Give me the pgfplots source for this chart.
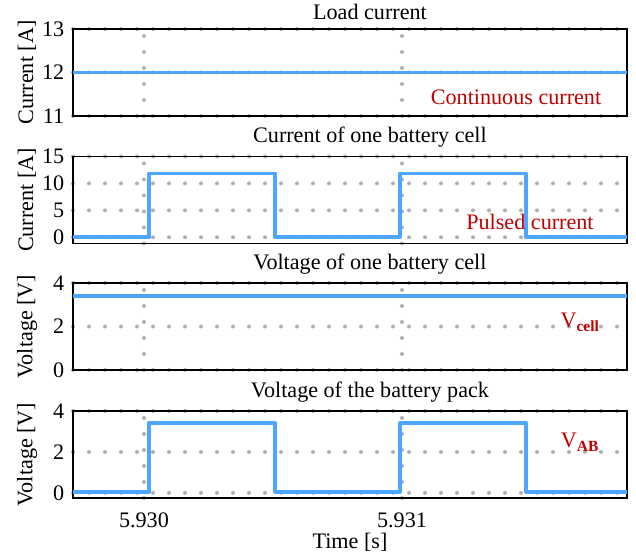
\documentclass[border=0pt]{standalone}
\usepackage{fontspec}
\setmainfont{Liberation Serif}
\usepackage{pgfplots}
\pgfplotsset{compat=1.18}

\definecolor{traceblue}{HTML}{4DA6FF}
\definecolor{notered}{HTML}{C00000}
\definecolor{gridgray}{HTML}{B0B0B0}

\newcommand\figfont{\fontsize{16.6}{19.5}\selectfont}

\tikzset{
  note/.style={notered, font=\figfont},
  trace/.style={traceblue, line width=2.8pt, line join=round, mark=none},
}

\pgfplotsset{
  panel/.style={
    scale only axis,
    width=415.5pt, height=65.25pt,
    anchor=north west,
    xmin=-0.275, xmax=1.872,
    xtick={0,1},
    xticklabels={},
    grid=major,
    grid style={gridgray, line width=3pt, line cap=round, dash pattern=on 0pt off 12pt},
    major grid style={gridgray, line width=3pt, line cap=round, dash pattern=on 0pt off 12pt},
    major tick length=0pt,
    axis line style={line width=1pt},
    tick label style={font=\figfont},
    yticklabel style={xshift=-3pt},
    /pgf/number format/assume math mode=true,
    ylabel style={at={(axis description cs:-0.083,0.5)}, anchor=center, font=\figfont},
    title style={at={(axis description cs:0.536,1)}, anchor=south, inner sep=0.5pt,
      font=\figfont},
  },
}

\begin{document}
\begin{tikzpicture}
\useasboundingbox (-54.75pt,-395.25pt) rectangle (422.25pt,21.75pt);

% load current
\begin{axis}[panel, at={(0pt,0pt)},
  ymin=11, ymax=13, ytick={11,12,13},
  title={Load current}, ylabel={Current [A]}]
  \addplot[trace] coordinates {(-0.275,12) (1.872,12)};
  \node[note] at (axis cs:1.442,11.44) {Continuous current};
\end{axis}

% current of one cell
\begin{axis}[panel, at={(0pt,-95.6pt)},
  ymin=-1.15, ymax=15, ytick={0,5,10,15},
  title={Current of one battery cell}, ylabel={Current [A]}]
  \addplot[trace] coordinates {(-0.275,0) (0.02,0) (0.02,11.85) (0.508,11.85) (0.508,0)
    (0.992,0) (0.992,11.85) (1.48,11.85) (1.48,0) (1.872,0)};
  \node[note] at (axis cs:1.496,2.76) {Pulsed current};
\end{axis}

% voltage of one cell
\begin{axis}[panel, at={(0pt,-190.5pt)},
  ymin=0, ymax=4, ytick={0,2,4},
  title={Voltage of one battery cell}, ylabel={Voltage [V]}]
  \addplot[trace] coordinates {(-0.275,3.4) (1.872,3.4)};
  \node[note] at (axis cs:1.69,2.2) {V\textsubscript{\textbf{cell}}};
\end{axis}

% voltage of the pack
\begin{axis}[panel, at={(0pt,-286.5pt)},
  ymin=-0.25, ymax=4, ytick={0,2,4},
  xticklabels={5.930,5.931},
  xticklabel style={anchor=center, yshift=-16.5pt},
  xlabel={Time [s]},
  xlabel style={at={(axis description cs:0.5,0)}, anchor=center, yshift=-33pt,
    font=\figfont},
  title={Voltage of the battery pack}, ylabel={Voltage [V]}]
  \addplot[trace] coordinates {(-0.275,0.06) (0.02,0.06) (0.02,3.42) (0.508,3.42) (0.508,0.06)
    (0.992,0.06) (0.992,3.42) (1.48,3.42) (1.48,0.06) (1.872,0.06)};
  \node[note] at (axis cs:1.69,2.48) {V\textsubscript{\textbf{AB}}};
\end{axis}
\end{tikzpicture}
\end{document}
